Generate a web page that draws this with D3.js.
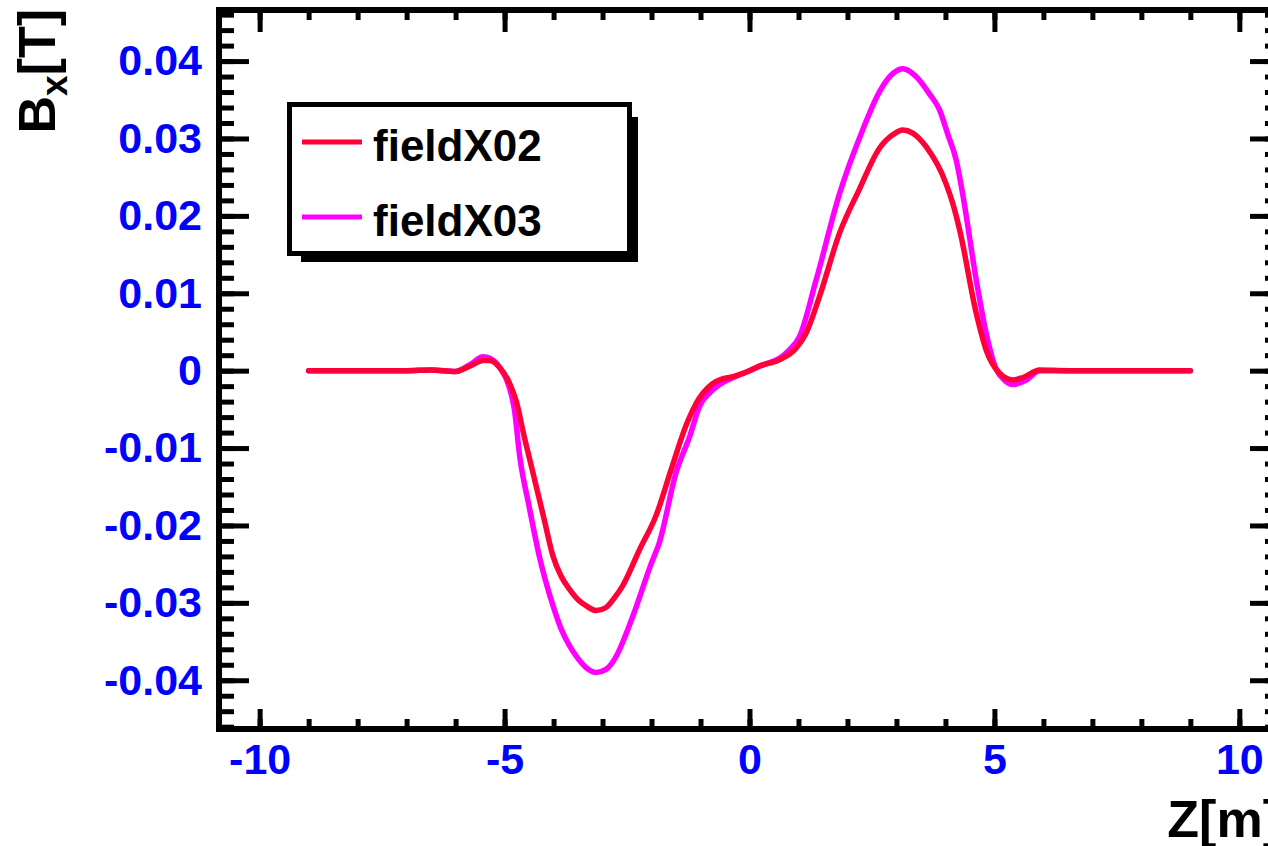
<!DOCTYPE html>
<html>
<head>
<meta charset="utf-8">
<script src="https://cdn.jsdelivr.net/npm/d3@7"></script>
<style>
  body { margin: 0; background: #fff; }
  svg { display: block; }
  text { font-family: "Liberation Sans", Arial, sans-serif; font-weight: bold; }
</style>
</head>
<body>
<div id="chart"></div>
<script>
// field readings, Z in m, B_x in T
var zX02 = [-9, -8, -7, -6.5, -6.0, -5.7, -5.44, -5.3, -5.1, -4.9, -4.76, -4.6, -4.42, -4.2, -4.01, -3.85, -3.67, -3.5, -3.33, -3.13,
    -2.93, -2.75, -2.59, -2.25, -1.9, -1.6, -1.29, -1.02, -0.85, -0.68, -0.3, 0, 0.2, 0.61, 0.95, 1.16, 1.43, 1.84, 2.24, 2.65,
    2.93, 3.13, 3.33, 3.61, 4.01, 4.15, 4.29, 4.63, 4.83, 5.1, 5.37, 5.58, 5.92, 6.5, 7, 8, 9];
var bX02 = [0, 0, 0, 0.0001, -0.0001, 0.0006, 0.0013, 0.0013, 0.0004, -0.0016, -0.004, -0.0085, -0.0132, -0.019, -0.024, -0.0265, -0.0283, -0.0296, -0.0304, -0.031,
    -0.0306, -0.0293, -0.0278, -0.0232, -0.0186, -0.0128, -0.007, -0.0035, -0.0022, -0.0014, -0.0007, 0, 0.0006, 0.0014, 0.0029, 0.0049, 0.0096, 0.0178, 0.0234, 0.0287,
    0.0305, 0.0311, 0.0307, 0.0289, 0.0242, 0.0216, 0.0182, 0.0074, 0.0027, -0.0003, -0.0012, -0.0009, 0.0001, 0, 0, 0, 0];

var zX03 = [-9, -8, -7, -6.5, -6.0, -5.7, -5.44, -5.3, -5.1, -4.9, -4.8, -4.69, -4.5, -4.29, -4.01, -3.85, -3.67, -3.5, -3.33, -3.13,
    -2.93, -2.72, -2.55, -2.38, -2.01, -1.84, -1.5, -1.22, -1.02, -0.8, -0.61, -0.3, 0, 0.3, 0.61, 0.8, 1.02, 1.36, 1.84, 2.31,
    2.65, 2.93, 3.13, 3.4, 3.67, 3.88, 4.05, 4.22, 4.35, 4.63, 4.83, 5.03, 5.2, 5.37, 5.65, 5.92, 6.5, 7, 8, 9];
var bX03 = [0, 0, 0, 0.0001, -0.0001, 0.0008, 0.0018, 0.0016, 0.0004, -0.0022, -0.005, -0.0111, -0.0175, -0.024, -0.0304, -0.0333, -0.0356, -0.0372, -0.0384, -0.039,
    -0.0386, -0.0369, -0.0345, -0.0317, -0.025, -0.0222, -0.0132, -0.0085, -0.0046, -0.0028, -0.0018, -0.0008, 0, 0.0008, 0.0016, 0.0026, 0.0044, 0.0117, 0.0229, 0.0311,
    0.036, 0.0384, 0.039, 0.038, 0.0358, 0.0337, 0.0305, 0.0272, 0.0229, 0.0117, 0.0049, 0.0003, -0.0012, -0.0018, -0.0012, 0, 0, 0, 0, 0];

var seriesNames = ["fieldX02", "fieldX03"];
var seriesColors = ["#ff0038", "#ff00ff"];

var xTicks = [-10, -5, 0, 5, 10];
var xTickLabels = ["-10", "-5", "0", "5", "10"];
var yTicks = [-0.04, -0.03, -0.02, -0.01, 0, 0.01, 0.02, 0.03, 0.04];
var yTickLabels = ["-0.04", "-0.03", "-0.02", "-0.01", "0", "0.01", "0.02", "0.03", "0.04"];

(function () {
    "use strict";

    var width = 1268,
        height = 846;
    var left = 219, right = 1280, top = 10, bottom = 729;

    var svg = d3.select("#chart").append("svg")
        .attr("width", width)
        .attr("height", height);

    var x = d3.scaleLinear().domain([-10.83, 10.83]).range([left, right]);
    var y = d3.scaleLinear().domain([-0.0463, 0.0466]).range([bottom, top]);

    var xMinor = d3.range(-10, 10.5, 1);
    var yMinor = d3.range(-0.046, 0.0465, 0.002);

    function styleTicks(g, w) {
        g.select(".domain").remove();
        g.selectAll(".tick line").attr("stroke", "#000").attr("stroke-width", w);
    }

    // y axis (left), labels in blue
    var yAxis = svg.append("g").attr("transform", "translate(" + left + ",0)")
        .call(d3.axisLeft(y).tickValues(yTicks).tickSize(-30).tickPadding(17)
            .tickFormat(function (d, i) { return yTickLabels[i]; }));
    styleTicks(yAxis, 5);
    yAxis.selectAll("text").attr("fill", "#0000ff").style("font-size", "43px");

    var yAxisMinor = svg.append("g").attr("transform", "translate(" + left + ",0)")
        .call(d3.axisLeft(y).tickValues(yMinor).tickSize(-15).tickFormat(""));
    styleTicks(yAxisMinor, 5);

    // right side ticks
    var yR = svg.append("g").attr("transform", "translate(" + right + ",0)")
        .call(d3.axisRight(y).tickValues(yTicks).tickSize(-30).tickFormat(""));
    styleTicks(yR, 5);
    var yRMinor = svg.append("g").attr("transform", "translate(" + right + ",0)")
        .call(d3.axisRight(y).tickValues(yMinor).tickSize(-15).tickFormat(""));
    styleTicks(yRMinor, 5);

    // x axis (bottom)
    var xAxis = svg.append("g").attr("transform", "translate(0," + bottom + ")")
        .call(d3.axisBottom(x).tickValues(xTicks).tickSize(-20).tickPadding(14)
            .tickFormat(function (d, i) { return xTickLabels[i]; }));
    styleTicks(xAxis, 5);
    xAxis.selectAll("text").attr("fill", "#0000ff").style("font-size", "43px");

    var xAxisMinor = svg.append("g").attr("transform", "translate(0," + bottom + ")")
        .call(d3.axisBottom(x).tickValues(xMinor).tickSize(-10).tickFormat(""));
    styleTicks(xAxisMinor, 5);

    // top ticks
    var xT = svg.append("g").attr("transform", "translate(0," + top + ")")
        .call(d3.axisTop(x).tickValues(xTicks).tickSize(-22).tickFormat(""));
    styleTicks(xT, 5);
    var xTMinor = svg.append("g").attr("transform", "translate(0," + top + ")")
        .call(d3.axisTop(x).tickValues(xMinor).tickSize(-10).tickFormat(""));
    styleTicks(xTMinor, 5);

    // frame
    svg.append("rect")
        .attr("x", left).attr("y", top)
        .attr("width", right - left).attr("height", bottom - top)
        .attr("fill", "none").attr("stroke", "#000").attr("stroke-width", 6);

    // curves
    var line = d3.line()
        .curve(d3.curveMonotoneX)
        .x(function (d) { return x(d[0]); })
        .y(function (d) { return y(d[1]); });

    var curves = [d3.zip(zX03, bX03), d3.zip(zX02, bX02)];
    var curveColors = [seriesColors[1], seriesColors[0]];
    svg.append("g").selectAll("path")
        .data(curves)
        .enter()
        .append("path")
        .attr("d", line)
        .attr("fill", "none")
        .attr("stroke", function (d, i) { return curveColors[i]; })
        .attr("stroke-width", 5.5)
        .attr("stroke-linejoin", "round")
        .attr("stroke-linecap", "round");

    // axis titles
    var yTitle = svg.append("text")
        .attr("transform", "translate(55,9) rotate(-90)")
        .attr("text-anchor", "end")
        .attr("fill", "#000")
        .style("font-size", "52px");
    yTitle.append("tspan").text("B");
    yTitle.append("tspan").attr("dy", 12).style("font-size", "37px").text("x");
    yTitle.append("tspan").attr("dy", -12).text("[T]");

    // clipped at the right edge, as in the original plot
    svg.append("text")
        .attr("x", right).attr("y", 837)
        .attr("text-anchor", "end")
        .attr("fill", "#000")
        .style("font-size", "52px")
        .text("Z[m]");

    // legend with shadow
    var lg = svg.append("g");
    lg.append("path")
        .attr("d", "M632,117 H638 V262 H301 V256 H632 Z")
        .attr("fill", "#000");
    lg.append("rect")
        .attr("x", 289.5).attr("y", 104.5)
        .attr("width", 340).attr("height", 149)
        .attr("fill", "#fff").attr("stroke", "#000").attr("stroke-width", 5);

    var entryY = [142, 217];
    seriesNames.forEach(function (name, i) {
        lg.append("line")
            .attr("x1", 302).attr("x2", 362)
            .attr("y1", entryY[i]).attr("y2", entryY[i])
            .attr("stroke", seriesColors[i]).attr("stroke-width", 5);
        lg.append("text")
            .attr("x", 373).attr("y", entryY[i] + 19)
            .attr("fill", "#000")
            .style("font-size", "44px")
            .text(name);
    });
})();
</script>
</body>
</html>
